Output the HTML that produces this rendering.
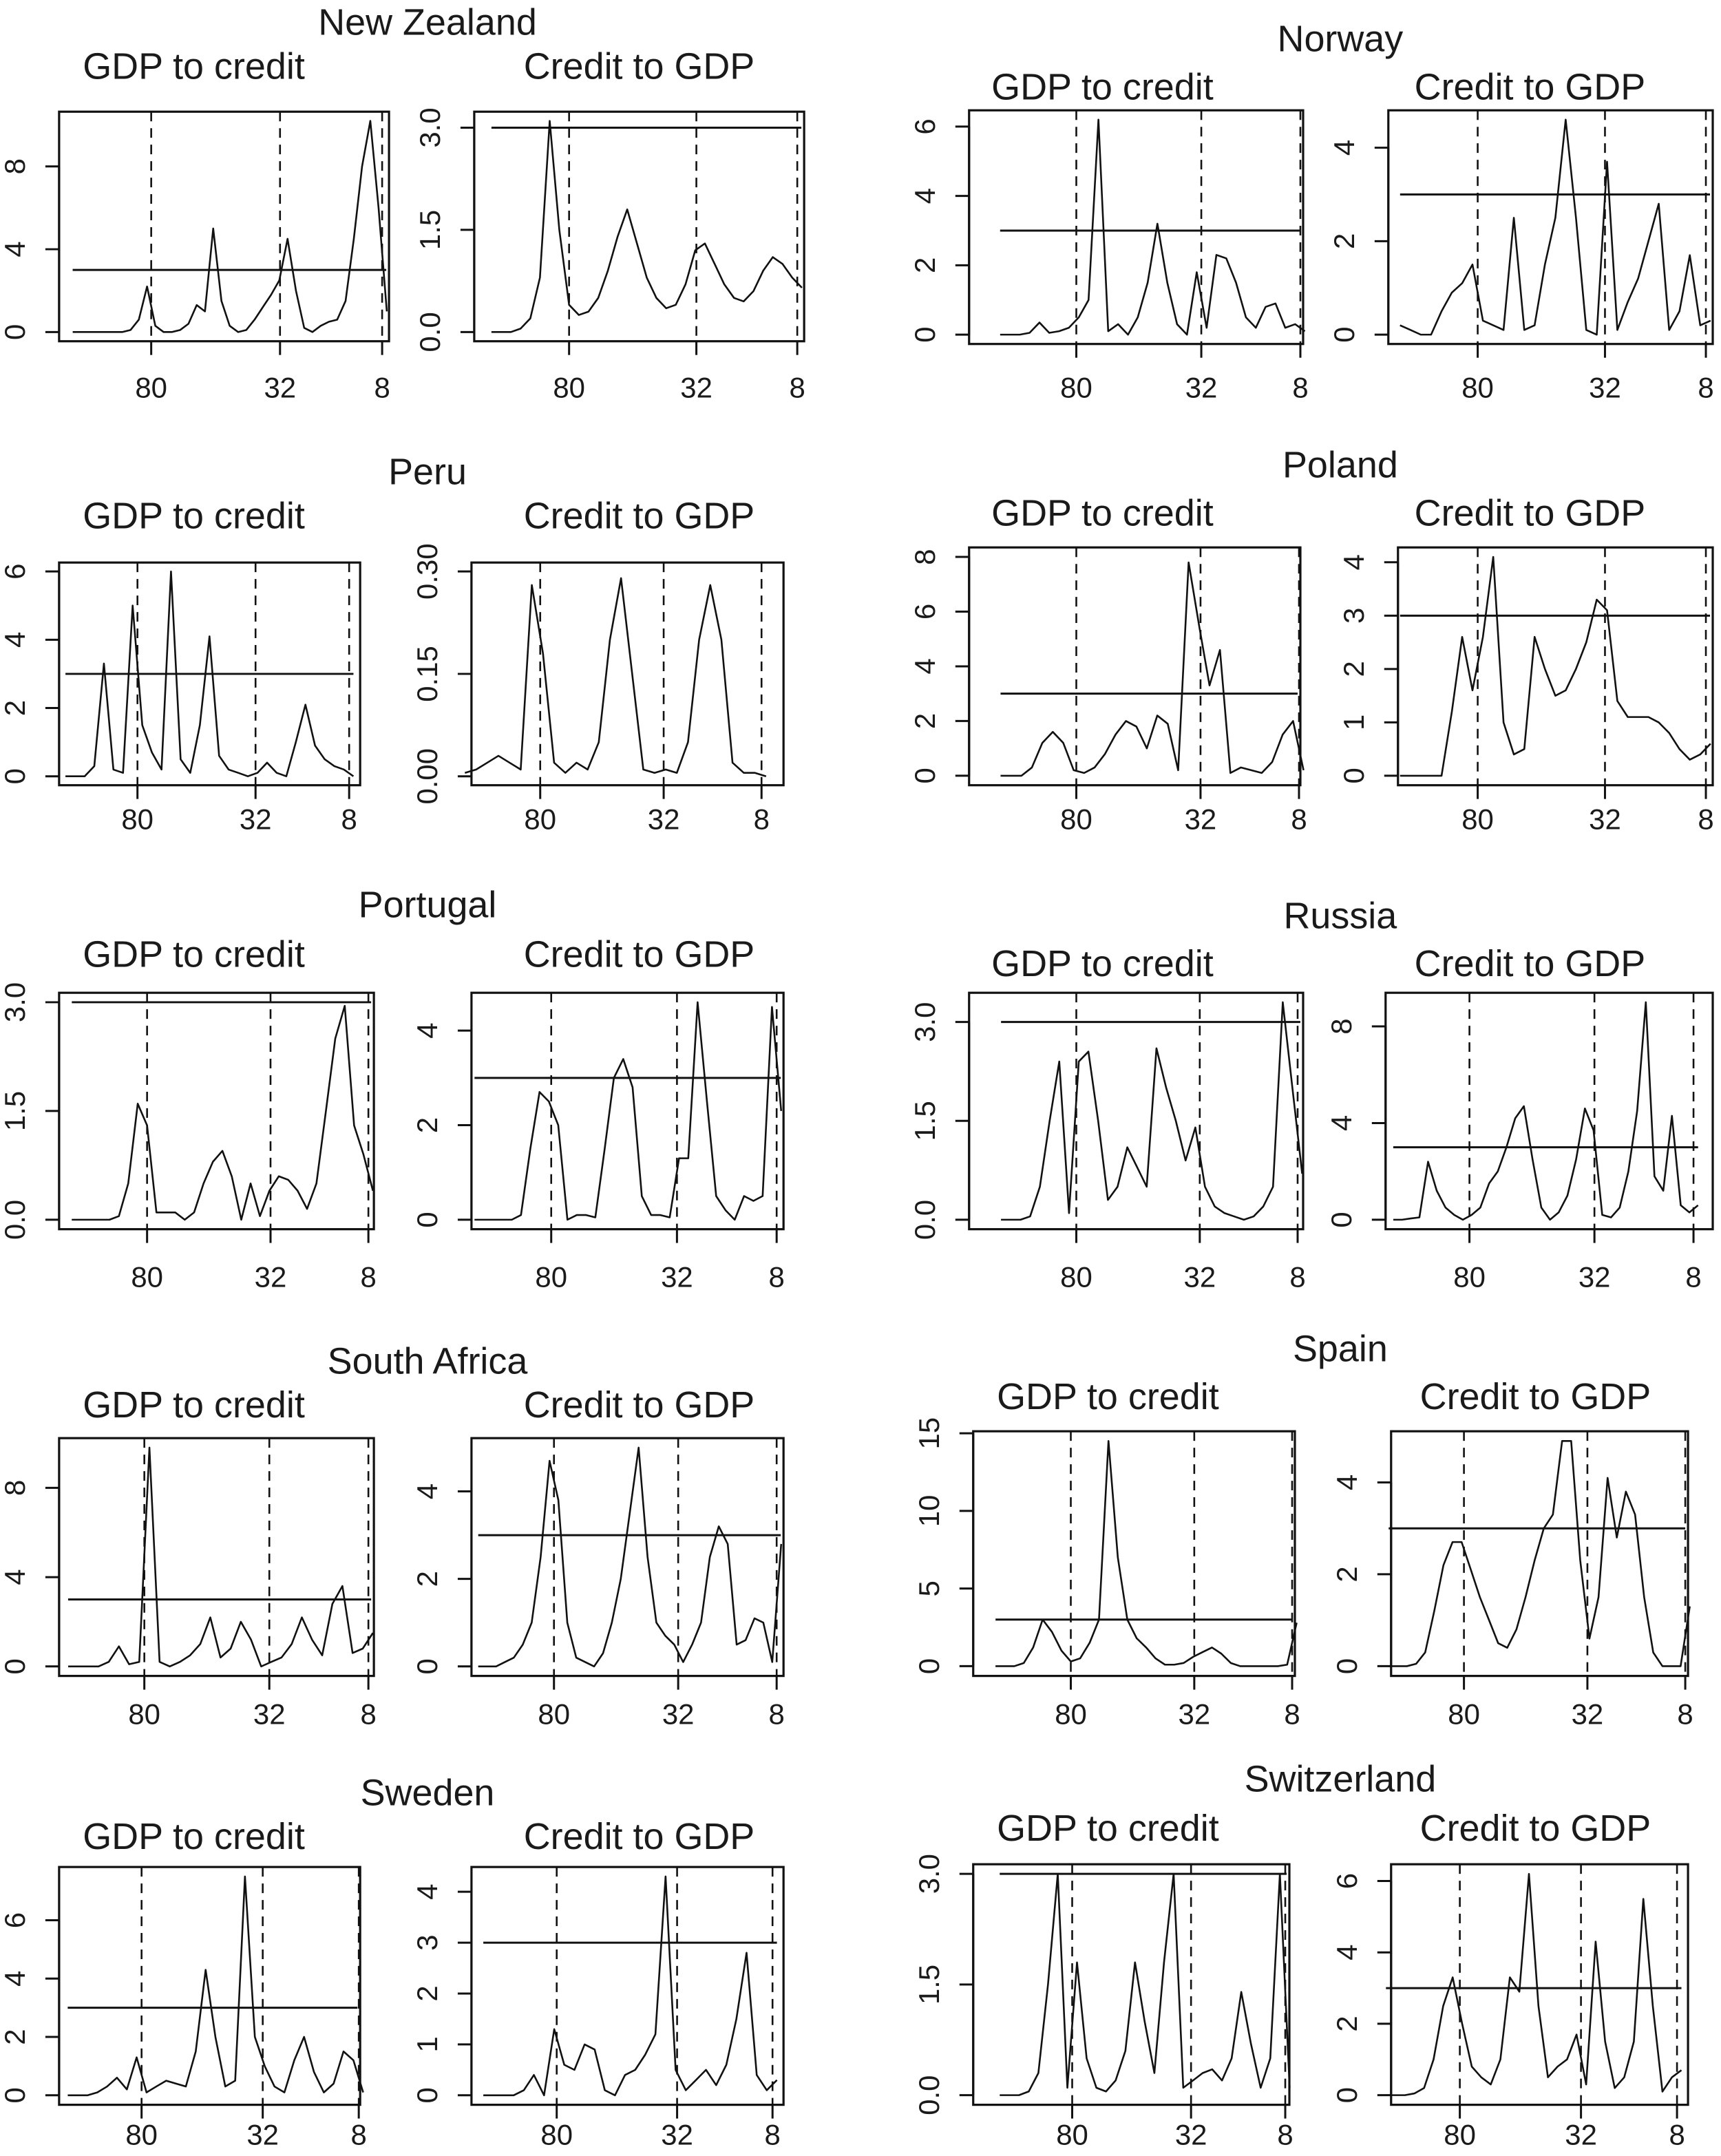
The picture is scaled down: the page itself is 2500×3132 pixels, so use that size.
<!DOCTYPE html>
<html><head><meta charset="utf-8"><style>
html,body{margin:0;padding:0;background:#fff;}
svg{display:block;}
text{font-family:"Liberation Sans",sans-serif;fill:#1a1a1a;}
</style></head><body>
<svg id="fig" width="2500" height="3132" viewBox="0 0 1252 1566" xmlns="http://www.w3.org/2000/svg"></svg>
<script>
const xTickLabels = ["80","32","8"];
const xTickPos = [0.25,0.66,0.985];
const threshold = 3;
const nzGdp = [0,0,0,0,0,0,0,0.1,0.6,2.2,0.3,0,0,0.1,0.4,1.3,1.0,5.0,1.5,0.3,0,0.1,0.6,1.2,1.8,2.5,4.5,2.0,0.2,0,0.3,0.5,0.6,1.5,4.5,8,10.2,6,1];
const nzCredit = [0,0,0,0.05,0.2,0.8,3.1,1.5,0.4,0.25,0.3,0.5,0.9,1.4,1.8,1.3,0.8,0.5,0.35,0.4,0.7,1.2,1.3,1.0,0.7,0.5,0.45,0.6,0.9,1.1,1.0,0.8,0.65];
const noGdp = [0,0,0,0.05,0.35,0.05,0.1,0.2,0.5,1,6.2,0.1,0.3,0,0.5,1.5,3.2,1.5,0.3,0,1.8,0.2,2.3,2.2,1.5,0.5,0.2,0.8,0.9,0.2,0.3,0.1];
const noCredit = [0.2,0.1,0,0,0.5,0.9,1.1,1.5,0.3,0.2,0.1,2.5,0.1,0.2,1.5,2.5,4.6,2.5,0.1,0,3.7,0.1,0.7,1.2,2.0,2.8,0.1,0.5,1.7,0.2,0.3];
const peGdp = [0,0,0,0.3,3.3,0.2,0.1,5,1.5,0.7,0.2,6,0.5,0.1,1.5,4.1,0.6,0.2,0.1,0,0.1,0.4,0.1,0,1,2.1,0.9,0.5,0.3,0.2,0];
const peCredit = [0.005,0.01,0.02,0.03,0.02,0.01,0.28,0.18,0.02,0.005,0.02,0.01,0.05,0.2,0.29,0.15,0.01,0.005,0.01,0.005,0.05,0.2,0.28,0.2,0.02,0.005,0.005,0];
const plGdp = [0,0,0,0.3,1.2,1.6,1.2,0.2,0.1,0.3,0.8,1.5,2.0,1.8,1.0,2.2,1.9,0.2,7.8,5.5,3.3,4.6,0.1,0.3,0.2,0.1,0.5,1.5,2,0.2];
const plCredit = [0,0,0,0,0,1.2,2.6,1.6,2.6,4.1,1,0.4,0.5,2.6,2.0,1.5,1.6,2,2.5,3.3,3.1,1.4,1.1,1.1,1.1,1.0,0.8,0.5,0.3,0.4,0.6];
const ptGdp = [0,0,0,0,0,0.05,0.5,1.6,1.3,0.1,0.1,0.1,0,0.1,0.5,0.8,0.95,0.6,0,0.5,0.05,0.4,0.6,0.55,0.4,0.15,0.5,1.5,2.5,2.95,1.3,0.9,0.4];
const ptCredit = [0,0,0,0,0,0.1,1.5,2.7,2.5,2.0,0,0.1,0.1,0.05,1.5,3.0,3.4,2.8,0.5,0.1,0.1,0.05,1.3,1.3,4.6,2.5,0.5,0.2,0,0.5,0.4,0.5,4.5,2.3];
const ruGdp = [0,0,0,0.05,0.5,1.5,2.4,0.1,2.4,2.55,1.5,0.3,0.5,1.1,0.8,0.5,2.6,2.0,1.5,0.9,1.4,0.5,0.2,0.1,0.05,0,0.05,0.2,0.5,3.3,2.0,0.7];
const ruCredit = [0,0,0.05,0.1,2.4,1.2,0.5,0.2,0,0.2,0.5,1.5,2,3,4.2,4.7,2.5,0.5,0,0.3,1,2.5,4.6,3.7,0.2,0.1,0.5,2,4.5,9,1.8,1.2,4.3,0.6,0.3,0.6];
const zaGdp = [0,0,0,0,0.2,0.9,0.1,0.2,9.8,0.2,0,0.2,0.5,1,2.2,0.4,0.8,2,1.2,0,0.2,0.4,1,2.2,1.2,0.5,2.8,3.6,0.6,0.8,1.5];
const zaCredit = [0,0,0,0.1,0.2,0.5,1,2.5,4.7,3.8,1,0.2,0.1,0,0.3,1,2,3.5,5,2.5,1,0.7,0.5,0.1,0.5,1,2.5,3.2,2.8,0.5,0.6,1.1,1.0,0.1,2.8];
const esGdp = [0,0,0,0.2,1.2,3,2.2,1,0.3,0.5,1.5,3,14.5,7,3,1.8,1.2,0.5,0.1,0.1,0.2,0.6,0.9,1.2,0.8,0.2,0,0,0,0,0,0.1,2.8];
const esCredit = [0,0,0,0.05,0.3,1.2,2.2,2.7,2.7,2.1,1.5,1,0.5,0.4,0.8,1.5,2.3,3,3.3,4.9,4.9,2.3,0.6,1.5,4.1,2.8,3.8,3.3,1.5,0.3,0,0,0,1.3];
const seGdp = [0,0,0,0.1,0.3,0.6,0.2,1.3,0.1,0.3,0.5,0.4,0.3,1.5,4.3,2,0.3,0.5,7.5,2,1,0.3,0.1,1.2,2,0.8,0.1,0.4,1.5,1.2,0.1];
const seCredit = [0,0,0,0,0.1,0.4,0,1.3,0.6,0.5,1,0.9,0.1,0,0.4,0.5,0.8,1.2,4.3,0.5,0.1,0.3,0.5,0.2,0.6,1.5,2.8,0.4,0.1,0.3];
const chGdp = [0,0,0,0.05,0.3,1.5,3,0.1,1.8,0.5,0.1,0.05,0.2,0.6,1.8,1,0.3,1.8,3,0.1,0.2,0.3,0.35,0.2,0.5,1.4,0.7,0.1,0.5,3,0.1];
const chCredit = [0,0,0,0.05,0.2,1,2.5,3.3,2,0.8,0.5,0.3,1,3.3,2.9,6.2,2.5,0.5,0.8,1,1.7,0.3,4.3,1.5,0.2,0.5,1.5,5.5,2.5,0.1,0.5,0.7];

const yTicksA = [0,4,8], yTicksB=[0,1.5,3], yTicksC=[0,2,4,6], yTicksD=[0,0.15,0.3], yTicksE=[0,2,4,6,8], yTicksF=[0,1,2,3,4], yTicksG=[0,2,4], yTicksH=[0,5,10,15];
const yLabB=["0.0","1.5","3.0"], yLabD=["0.00","0.15","0.30"];

// layout: L/R = [boxLeft, boxRight, pixel of first tick, pixel of last tick]
const countries = [
 {name:"New Zealand",tx:311,ty:24,sy:56,yt:80,yb:247,lab:288,L:[43,283,110,278],R:[345,585,414,580],g:nzGdp,gmax:10.2,gt:yTicksA,c:nzCredit,cmax:3.1,ct:yTicksB,cl:yLabB},
 {name:"Norway",tx:975,ty:36,sy:71,yt:79,yb:249,lab:288,L:[705,948,783,946],R:[1010,1246,1075,1241],g:noGdp,gmax:6.2,gt:yTicksC,c:noCredit,cmax:4.6,ct:yTicksG},
 {name:"Peru",tx:311,ty:351,sy:383,yt:408,yb:570,lab:602,L:[43,262,100,254],R:[343,570,393,554],g:peGdp,gmax:6,gt:yTicksC,c:peCredit,cmax:0.3,ct:yTicksD,cl:yLabD},
 {name:"Poland",tx:975,ty:346,sy:381,yt:397,yb:570,lab:602,L:[705,946,783,945],R:[1017,1246,1075,1241],g:plGdp,gmax:8,gt:yTicksE,c:plCredit,cmax:4.1,ct:yTicksF},
 {name:"Portugal",tx:311,ty:666,sy:702,yt:721,yb:893,lab:935,L:[43,272,107,268],R:[343,570,401,565],g:ptGdp,gmax:3,gt:yTicksB,gl:yLabB,c:ptCredit,cmax:4.6,ct:yTicksG},
 {name:"Russia",tx:975,ty:674,sy:709,yt:721,yb:893,lab:935,L:[705,948,783,944],R:[1008,1246,1069,1232],g:ruGdp,gmax:3.3,gt:yTicksB,gl:yLabB,c:ruCredit,cmax:9,ct:yTicksA},
 {name:"South Africa",tx:311,ty:998,sy:1030,yt:1045,yb:1218,lab:1253,L:[43,272,105,268],R:[343,570,403,565],g:zaGdp,gmax:9.8,gt:yTicksA,c:zaCredit,cmax:5,ct:yTicksG},
 {name:"Spain",tx:975,ty:989,sy:1024,yt:1040,yb:1218,lab:1253,L:[708,942,779,940],R:[1012,1228,1065,1226],g:esGdp,gmax:14.5,gt:yTicksH,c:esCredit,cmax:4.9,ct:yTicksG},
 {name:"Sweden",tx:311,ty:1312,sy:1344,yt:1357,yb:1530,lab:1559,L:[43,262,103,261],R:[343,570,405,562],g:seGdp,gmax:7.5,gt:yTicksC,c:seCredit,cmax:4.3,ct:yTicksF},
 {name:"Switzerland",tx:975,ty:1302,sy:1338,yt:1355,yb:1530,lab:1559,L:[708,938,780,935],R:[1012,1228,1062,1220],g:chGdp,gmax:3,gt:yTicksB,gl:yLabB,c:chCredit,cmax:6.2,ct:yTicksC}
];
const NS="http://www.w3.org/2000/svg";
const fig=document.getElementById('fig');
function mk(tag,attrs,parent){const e=document.createElementNS(NS,tag);for(const k in attrs)e.setAttribute(k,attrs[k]);parent.appendChild(e);return e;}
function slug(s){return String(s).toLowerCase().replace(/\s+/g,'-');}
function panel(parent,cn,subT,subX,subY,B,yt,yb,lab,vals,vmax,ticks,tlabs){
  const g=mk('g',{},parent);
  
  
  const x0=B[0],x1=B[1];
  const w=x1-x0,h=yb-yt;
  const uA=xTickPos[0],uB=xTickPos[xTickPos.length-1];
  const k=(B[3]-B[2])/(uB-uA);
  const xs=u=>B[2]+(u-uA)*k;
  const ys=v=>yb-0.04*h-(v/vmax)*0.92*h;
  const st=mk('text',{x:subX,y:subY,'text-anchor':'middle','font-size':27},g);
  st.textContent=subT;
  
  
  const box=mk('rect',{x:x0,y:yt,width:w,height:h,fill:'none',stroke:'#111','stroke-width':1.6},g);
  
  
  xTickPos.forEach((u,i)=>{
    const x=xs(u);
    const dl=mk('line',{x1:x,x2:x,y1:yt,y2:yb,stroke:'#111','stroke-width':1.3,'stroke-dasharray':'7 5'},g);
    
    
    const tk=mk('line',{x1:x,x2:x,y1:yb,y2:yb+10,stroke:'#111','stroke-width':1.5},g);
    
    
    const tl=mk('text',{x:x,y:lab,'text-anchor':'middle','font-size':21},g);
    tl.textContent=xTickLabels[i];
    
    
  });
  const ya=mk('line',{x1:x0,x2:x0,y1:ys(ticks[0]),y2:ys(ticks[ticks.length-1]),stroke:'#111','stroke-width':1.5},g);
  
  
  ticks.forEach((t,i)=>{
    const y=ys(t);
    const tk=mk('line',{x1:x0-10,x2:x0,y1:y,y2:y,stroke:'#111','stroke-width':1.5},g);
    
    
    const lx=x0-25;
    const tl=mk('text',{x:lx,y:y,'text-anchor':'middle','font-size':21,transform:'rotate(-90 '+lx+' '+y+')'},g);
    tl.textContent=tlabs?tlabs[i]:String(t);
    
    
  });
  const xStart=xs(0), xEnd=xs(1);
  if(threshold<=vmax*1.04){
    const th=mk('line',{x1:xStart,x2:Math.min(xEnd,x1-2),y1:ys(threshold),y2:ys(threshold),stroke:'#111','stroke-width':1.5},g);
    
    
  }
  const n=vals.length;
  const pts=vals.map((v,i)=>xs(i/(n-1)).toFixed(1)+','+ys(v).toFixed(1)).join(' ');
  const pl=mk('polyline',{points:pts,fill:'none',stroke:'#111','stroke-width':1.3,'stroke-linejoin':'round'},g);
  
  
}
countries.forEach(c=>{
  const g=mk('g',{},fig);
  
  
  const t=mk('text',{x:c.tx,y:c.ty,'text-anchor':'middle','font-size':27},g);
  t.textContent=c.name;
  
  
  const leftCol=c.tx<600;
  panel(g,c.name,"GDP to credit",leftCol?141:(c.L[0]>706?806:802),c.sy,c.L,c.yt,c.yb,c.lab,c.g,c.gmax,c.gt,c.gl);
  panel(g,c.name,"Credit to GDP",leftCol?465:(c.R[1]<1240?1117:1113),c.sy,c.R,c.yt,c.yb,c.lab,c.c,c.cmax,c.ct,c.cl);
});
</script>
</body></html>
